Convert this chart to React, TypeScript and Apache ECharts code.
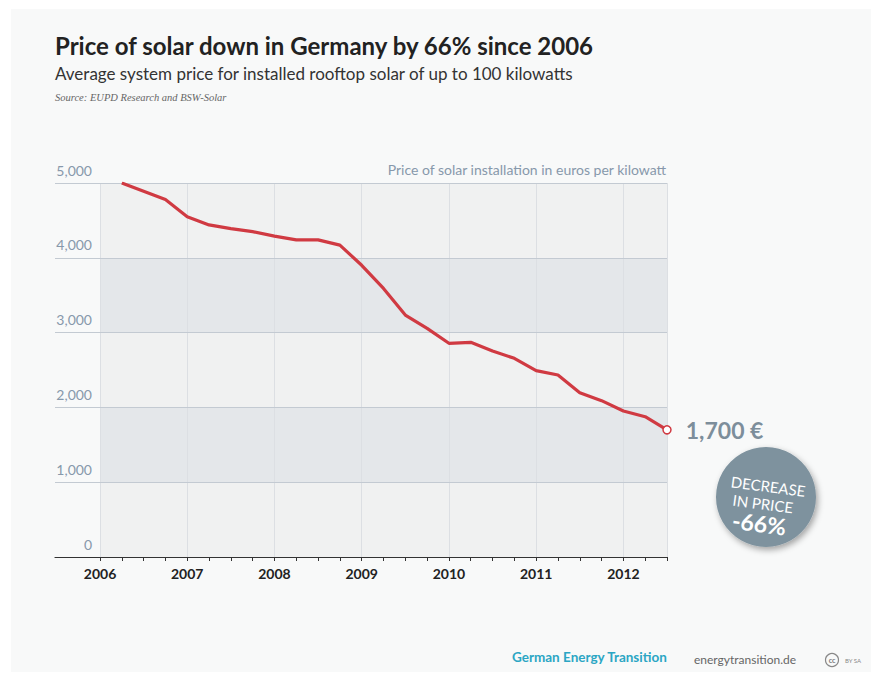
import React, { useEffect, useRef } from "react";
import * as echarts from "echarts";

const quarterX = [
  2006.25, 2006.5, 2006.75, 2007, 2007.25, 2007.5, 2007.75, 2008, 2008.25, 2008.5,
  2008.75, 2009, 2009.25, 2009.5, 2009.75, 2010, 2010.25, 2010.5, 2010.75, 2011,
  2011.25, 2011.5, 2011.75, 2012, 2012.25, 2012.5,
];
const prices = [
  5000, 4890, 4780, 4550, 4440, 4390, 4350, 4290, 4240, 4240,
  4170, 3900, 3590, 3235, 3057, 2857, 2870, 2754, 2656, 2491,
  2433, 2197, 2090, 1952, 1876, 1700,
];
const xMin = 2006;
const xMax = 2012.5;
const yMin = 0;
const yMax = 5000;
const yStep = 1000;

const TITLE = "Price of solar down in Germany by 66% since 2006";
const SUBTITLE = "Average system price for installed rooftop solar of up to 100 kilowatts";
const SOURCE = "Source: EUPD Research and BSW-Solar";
const UNIT = "Price of solar installation in euros per kilowatt";
const BADGE = ["DECREASE", "IN PRICE", "-66%"];

const FONT = "Lato, 'Noto Sans', sans-serif";

export default function App() {
  const ref = useRef<HTMLDivElement>(null);
  useEffect(() => {
    if (!ref.current) return;
    const chart = echarts.init(ref.current, null, { renderer: "svg" });
    const lastIdx = prices.length - 1;
    const seriesData = quarterX.map((x, i) => {
      if (i !== lastIdx) return [x, prices[i]];
      return {
        value: [x, prices[i]],
        symbol: "circle",
        symbolSize: 8,
        itemStyle: { color: "#ffffff", borderColor: "#d03a42", borderWidth: 1.5 },
        label: {
          show: true,
          position: "right",
          distance: 14,
          formatter: (p: any) => p.value[1].toLocaleString("en-US") + " €",
          fontFamily: FONT,
          fontSize: 23,
          fontWeight: "bold",
          color: "#7d8e9b",
        },
      };
    });

    chart.setOption({
      animation: false,
      textStyle: { fontFamily: FONT },
      grid: [
        { left: 100, right: 214, top: 183, bottom: 125 },
        { left: 55, right: 214, top: 183, bottom: 125 },
      ],
      xAxis: [
        {
          type: "value",
          gridIndex: 0,
          min: xMin,
          max: xMax,
          interval: 0.25,
          z: 4,
          axisLine: { show: false },
          axisTick: { show: true, length: 4, lineStyle: { color: "#333", width: 1 } },
          splitLine: { show: false },
          axisLabel: {
            margin: 9,
            fontFamily: FONT,
            fontSize: 14,
            fontWeight: "bold",
            color: "#222",
            formatter: (v: number) => (Number.isInteger(v) ? String(v) : ""),
          },
        },
        {
          type: "value",
          gridIndex: 1,
          min: 0,
          max: 1,
          z: 3,
          axisLine: { show: true, lineStyle: { color: "#333", width: 1.2 } },
          axisTick: { show: false },
          axisLabel: { show: false },
          splitLine: { show: false },
        },
        {
          type: "value",
          gridIndex: 0,
          min: xMin,
          max: xMax,
          interval: 1,
          z: 1,
          axisLine: { show: false },
          axisTick: { show: false },
          axisLabel: { show: false },
          splitLine: { show: true, lineStyle: { color: "#dcdfe3", width: 1 } },
        },
      ],
      yAxis: [
        {
          type: "value",
          gridIndex: 0,
          min: yMin,
          max: yMax,
          interval: yStep,
          z: 0,
          axisLine: { show: false },
          axisTick: { show: false },
          splitLine: { show: false },
          splitArea: { show: true, areaStyle: { color: ["#f0f1f1", "#e4e7ea"] } },
          axisLabel: {
            margin: 8,
            fontFamily: FONT,
            fontSize: 14,
            color: "#8798ab",
            verticalAlign: "bottom",
            padding: [0, 0, 6, 0],
            formatter: (v: number) => v.toLocaleString("en-US"),
          },
        },
        {
          type: "value",
          gridIndex: 1,
          min: yMin,
          max: yMax,
          interval: yStep,
          z: 2,
          axisLine: { show: false },
          axisTick: { show: false },
          axisLabel: { show: false },
          splitLine: { show: true, lineStyle: { color: "#c3cad2", width: 1.2 } },
        },
      ],
      series: [
        {
          type: "line",
          xAxisIndex: 0,
          yAxisIndex: 0,
          z: 10,
          symbol: "none",
          data: seriesData,
          lineStyle: { color: "#d03a42", width: 3.2 },
          itemStyle: { color: "#d03a42" },
        },
      ],
      graphic: [
        {
          type: "text",
          left: 55,
          top: 33,
          style: { text: TITLE, font: `bold 24px ${FONT}`, fill: "#222" },
        },
        {
          type: "text",
          left: 55,
          top: 65,
          style: { text: SUBTITLE, font: `17px ${FONT}`, fill: "#333" },
        },
        {
          type: "text",
          left: 55,
          top: 92,
          style: {
            text: SOURCE,
            font: `italic 10.5px 'Liberation Serif', 'DejaVu Serif', serif`,
            fill: "#666",
          },
        },
        {
          type: "text",
          right: 881 - 667,
          top: 162,
          style: { text: UNIT, font: `14px ${FONT}`, fill: "#8798ab" },
        },
        {
          type: "circle",
          shape: { cx: 766, cy: 497, r: 50 },
          style: {
            fill: "#7e929e",
            shadowBlur: 6,
            shadowColor: "rgba(0,0,0,0.35)",
            shadowOffsetX: 2,
            shadowOffsetY: 3,
          },
        },
        {
          type: "group",
          x: 766,
          y: 503,
          rotation: -0.13,
          children: [
            {
              type: "text",
              x: 0,
              y: -17,
              style: { text: BADGE[0], font: `15px ${FONT}`, fill: "#fff", align: "center", verticalAlign: "middle" },
            },
            {
              type: "text",
              x: -3,
              y: 1,
              style: { text: BADGE[1], font: `15px ${FONT}`, fill: "#fff", align: "center", verticalAlign: "middle" },
            },
            {
              type: "text",
              x: -4,
              y: 21,
              style: { text: BADGE[2], font: `bold 23px ${FONT}`, fill: "#fff", align: "center", verticalAlign: "middle" },
            },
          ],
        },
        {
          type: "text",
          left: 512,
          top: 650,
          style: { text: "German Energy Transition", font: `bold 13.5px ${FONT}`, fill: "#2ba6c4" },
        },
        {
          type: "text",
          left: 694,
          top: 653,
          style: { text: "energytransition.de", font: `12px ${FONT}`, fill: "#666" },
        },
        {
          type: "circle",
          shape: { cx: 832, cy: 660, r: 6.5 },
          style: { fill: "none", stroke: "#888", lineWidth: 1.2 },
        },
        {
          type: "text",
          x: 832,
          y: 660,
          style: { text: "cc", font: `bold 7px ${FONT}`, fill: "#777", align: "center", verticalAlign: "middle" },
        },
        {
          type: "text",
          x: 845,
          y: 660,
          style: { text: "BY SA", font: `6px ${FONT}`, fill: "#888", verticalAlign: "middle" },
        },
      ],
    });
    return () => chart.dispose();
  }, []);

  return (
    <div style={{ position: "absolute", left: 0, top: 0, width: 881, height: 682, background: "#ffffff" }}>
      <div style={{ position: "absolute", left: 11, top: 9, width: 860, height: 663, background: "#f8f9f9" }} />
      <div ref={ref} style={{ position: "absolute", left: 0, top: 0, width: 881, height: 682 }} />
    </div>
  );
}
